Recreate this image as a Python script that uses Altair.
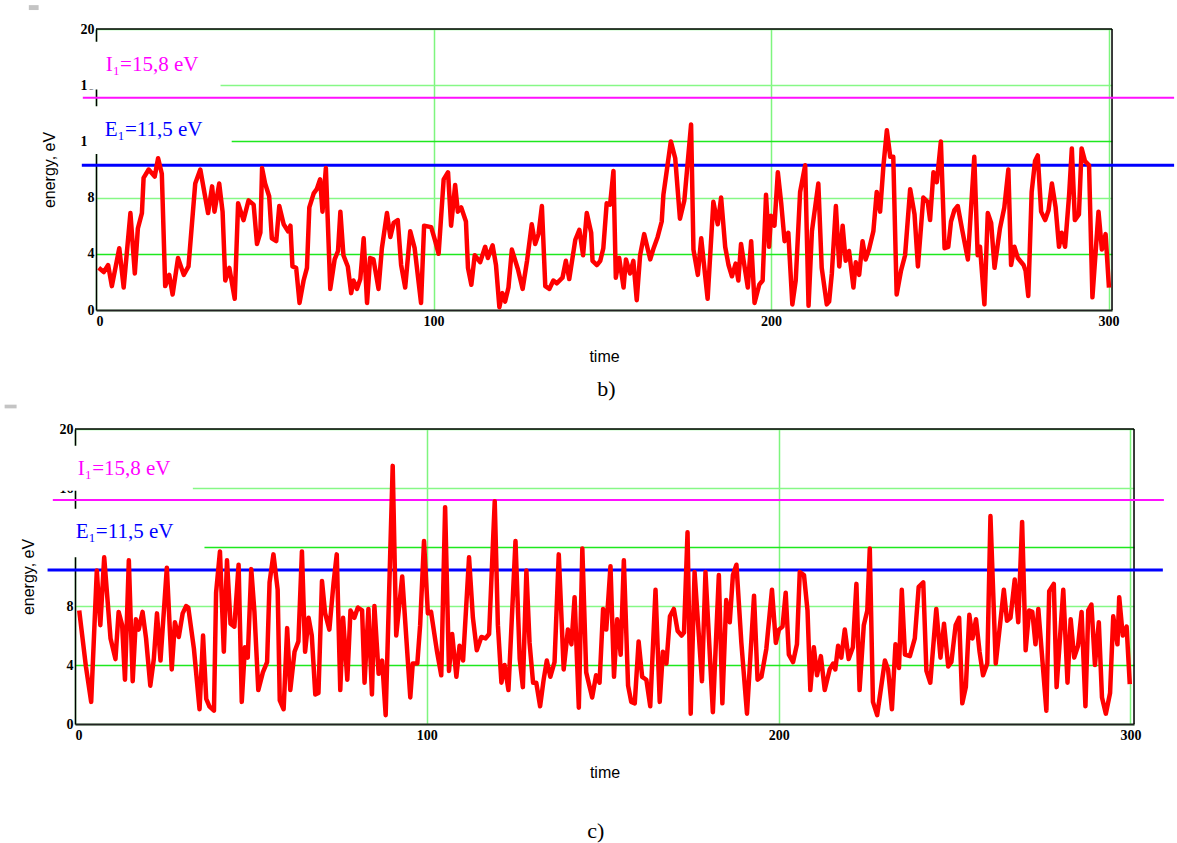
import altair as alt
import pandas as pd

# ---------------- data: panel b) ----------------
time_b = [0.8, 2.3, 3.6, 4.7, 6.9, 8.2, 10.2, 11.5, 12.4, 13.6, 14.1, 15.6, 17.4, 18.4, 19.5,
          20.5, 21.7, 22.7, 24.3, 26.0, 27.4, 29.4, 30.9, 33.2, 34.4, 35.1, 36.5, 37.5, 38.3,
          39.5, 41.1, 42.1, 43.7, 45.2, 46.7, 47.7, 48.7, 49.2, 50.1, 51.3, 52.1, 53.4, 54.3,
          55.6, 56.9, 57.6, 58.2, 59.3, 60.3, 61.5, 62.5, 63.2, 64.5, 65.4, 66.4, 67.1, 68.1,
          69.4, 70.7, 71.7, 72.4, 73.3, 74.6, 75.6, 76.3, 77.3, 78.3, 79.3, 80.3, 81.2, 82.2,
          83.7, 84.7, 86.2, 87.2, 88.2, 89.4,
          90.4, 91.6, 93.1, 94.4, 96.3, 97.2, 99.3, 100.5, 101.5, 103.0, 104.3, 105.2, 106.4,
          107.2, 108.2, 109.6, 110.2, 111.2, 112.2, 113.8, 115.3, 116.1, 117.5, 118.5, 119.5,
          120.4, 121.2, 122.2, 123.2, 125.0, 126.4, 127.7, 129.1, 130.1, 131.1, 132.1, 133.1,
          134.3, 135.5, 136.5, 138.2, 139.2, 140.2, 142.0, 143.2, 144.3, 145.4, 146.7, 147.1,
          148.4, 149.4, 150.3, 151.3, 152.3, 153.3, 154.0, 155.0, 156.3, 157.0, 158.2, 159.2,
          160.2, 161.2, 162.4, 164.2, 165.2, 166.4, 167.6, 168.1, 168.8, 170.3, 171.6, 173.0,
          174.3, 176.3, 177.0, 178.3, 179.3, 181.2, 182.9, 184.2, 185.2, 186.4, 187.4, 188.4,
          189.5, 190.3, 191.1, 193.1, 194.1, 195.1, 196.5, 197.5, 198.5, 199.4, 200.0, 201.0,
          202.0,
          203.0, 204.0, 205.1, 206.3, 207.3, 208.6, 210.1, 211.1, 212.1, 214.0, 215.0, 216.5,
          217.2, 218.0, 219.2, 220.2, 221.2, 222.1, 223.1, 224.4, 225.1, 226.1, 227.1, 228.0,
          229.0, 230.3, 231.3, 232.3, 233.3, 234.3, 235.3, 236.2, 237.2, 238.5, 239.7, 241.2,
          242.5, 243.5, 245.1, 246.4, 247.1, 248.1, 249.1, 250.3, 251.4, 252.5, 253.3, 254.3,
          255.3, 256.7, 258.3, 260.2, 261.2, 261.9, 263.2, 264.2, 265.2, 266.2, 267.8, 269.1,
          270.3, 271.1, 272.1, 273.1, 274.8, 275.4, 276.2, 277.2, 278.2, 279.0, 280.0, 281.2,
          282.2, 283.2, 284.3, 285.3, 286.1, 287.1, 288.3, 289.1, 290.0, 291.2, 292.0, 293.0,
          294.2, 295.2, 297.0, 298.0, 299.1, 300.1]
energy_b = [3.0, 2.7, 3.2, 1.7, 4.4, 1.6, 6.9, 2.6, 5.8, 6.9, 9.4, 10.0, 9.5, 10.8, 9.7,
            1.7, 2.5, 1.1, 3.7, 2.5, 3.1, 9.0, 10.0, 6.9, 8.8, 7.0, 9.0, 7.0, 2.1,
            3.0, 0.8, 7.6, 6.4, 7.8, 7.5, 4.7, 5.5, 10.1, 9.0, 8.1, 5.1, 4.9, 7.4,
            6.1, 5.6, 6.0, 3.1, 3.0, 0.5, 2.1, 3.0, 7.3, 8.3, 8.6, 9.3, 7.0, 10.1,
            1.5, 3.6, 4.2, 7.0, 3.9, 3.1, 1.2, 2.1, 1.5, 2.2, 5.1, 0.5, 3.7, 3.6,
            1.5, 4.4, 6.9, 5.2, 6.2, 6.4,
            3.2, 1.6, 5.6, 4.4, 0.5, 6.0, 5.9, 4.9, 4.0, 9.3, 9.8, 6.0, 8.9,
            7.0, 7.3, 6.3, 3.0, 1.8, 3.9, 3.4, 4.5, 3.7, 4.6, 3.2, 0.2,
            1.2, 0.6, 1.6, 4.3, 2.9, 1.5, 3.5, 6.1, 4.7, 5.4, 7.4, 1.7,
            1.5, 2.1, 1.9, 2.3, 3.5, 2.2, 5.0, 5.7, 3.9, 6.9, 5.5, 3.5,
            3.2, 3.5, 4.4, 7.6, 7.5, 9.9, 2.3, 3.7, 1.6, 3.6, 2.6, 3.5,
            0.7, 3.9, 5.4, 3.6, 4.4, 5.2, 6.3, 8.2, 9.4, 12.0, 10.8, 6.5,
            7.8, 13.2, 4.3, 2.5, 5.1, 0.8, 7.7, 6.1, 8.0, 4.5, 3.2, 2.4,
            3.3, 2.1, 4.7, 1.6, 4.9, 0.5, 1.8, 2.1, 8.2, 4.5, 6.7, 6.0,
            9.8,
            7.6, 4.9, 5.5, 0.4, 2.1, 8.4, 10.3, 0.3, 5.6, 9.0, 3.0, 0.4,
            0.6, 2.6, 7.4, 3.1, 6.0, 3.5, 4.2, 1.6, 3.4, 2.5, 4.9, 3.6,
            4.3, 5.6, 8.4, 7.0, 10.3, 12.8, 10.9, 10.9, 1.1, 2.8, 3.9, 8.6,
            6.8, 3.1, 8.0, 7.7, 6.4, 9.8, 9.1, 12.0, 4.4, 4.5, 6.3, 7.1,
            7.4, 5.6, 3.6, 10.9, 3.9, 4.5, 0.4, 6.9, 6.2, 3.0, 5.8, 7.3,
            10.0, 3.2, 4.5, 3.7, 3.2, 2.8, 1.0, 8.4, 10.6, 11.0, 7.0, 6.4,
            7.1, 9.0, 7.3, 4.5, 5.5, 4.5, 8.2, 11.5, 6.4, 6.8, 11.5, 10.6,
            10.3, 0.9, 7.0, 4.3, 5.4, 1.6]

# ---------------- data: panel c) ----------------
time_c = [1.2, 3.1, 4.6, 6.2, 7.2, 8.3, 10.1, 11.5, 12.4, 13.4, 14.2, 15.3, 16.4, 17.3, 18.1,
          19.2, 20.2, 21.4, 22.4, 23.3, 24.3, 26.1, 27.5, 28.4, 29.5, 30.6, 31.6, 32.2, 33.8,
          35.4, 36.4, 37.3, 38.2, 39.5, 40.1, 41.2, 42.3, 43.2, 44.2, 45.3, 46.5, 47.4, 48.3,
          49.1, 50.1, 51.0, 52.1, 53.4, 54.6, 55.3, 56.4, 57.6, 58.2, 59.3, 60.3, 61.2, 62.4,
          63.5, 64.5, 65.4, 66.4, 67.3, 68.3, 69.2, 70.2, 71.1, 72.3, 73.5, 74.4, 75.4, 76.2,
          77.4, 78.3, 79.4, 80.4, 81.6, 82.3, 83.4, 84.4, 85.1, 86.3, 87.3, 88.3, 90.3, 91.3,
          93.0, 95.3, 96.0, 97.3, 98.1, 99.2, 100.3, 101.2, 102.9, 104.1, 105.2, 106.3, 107.2,
          108.4, 109.3, 110.3, 112.0, 113.1, 114.2, 115.5, 116.7, 117.7, 119.3, 120.2, 121.2,
          122.1, 123.2, 125.2, 126.4, 127.3, 128.3, 129.2, 130.2, 131.1, 132.2, 133.2, 134.1,
          135.1, 136.3, 137.5, 138.9, 140.1, 141.1, 142.0, 143.2, 144.2, 145.3, 147.0, 148.1,
          149.1, 150.1, 151.0, 152.2, 153.2, 154.1, 155.1, 156.0, 157.2, 158.1, 159.1, 160.2,
          161.2, 162.4, 163.5, 165.0, 166.2, 167.1, 168.1, 169.1, 170.2, 171.3, 172.4, 173.1,
          174.1, 175.0, 176.1, 178.2, 179.2, 181.3, 183.0, 184.0, 185.1, 186.1, 187.0, 188.0,
          189.4, 191.0, 193.0, 194.0, 195.1, 196.5, 198.1, 199.2, 200.1, 201.1, 202.0, 202.9,
          204.1, 205.2, 206.0, 207.2, 208.2, 209.0, 210.0, 210.9, 212.0, 213.1, 214.5, 215.5,
          216.1, 216.9, 217.8, 218.8, 219.9, 221.1, 222.1, 223.0, 224.2, 225.2, 225.9, 226.8,
          228.0, 230.2, 231.1, 232.2, 233.2, 234.2, 235.0, 235.9, 237.3, 238.7, 239.8, 241.1,
          242.0, 243.1, 244.8, 246.0, 247.0, 248.2, 249.1, 250.3, 251.3, 252.2, 253.2, 254.2,
          255.1, 256.1, 257.1, 258.1, 259.3, 260.2, 261.7, 263.0, 264.0, 264.9, 265.9, 267.1,
          268.1, 269.2, 270.2, 271.2, 272.1, 273.0, 273.8, 275.0, 276.1, 276.9, 278.2, 279.0,
          280.9, 282.1, 283.0, 284.0, 285.1, 286.1, 287.2, 288.0, 288.9, 289.9, 291.0, 291.9,
          293.0, 294.2, 295.1, 296.3, 296.8, 297.8, 298.9, 299.8]
energy_c = [7.7, 3.9, 1.5, 10.4, 6.7, 11.3, 5.8, 4.4, 7.6, 6.7, 3.0, 11.1, 2.9, 7.1, 6.4,
            7.6, 5.8, 2.6, 4.4, 7.5, 4.3, 10.6, 3.7, 6.9, 5.9, 7.5, 8.0, 7.9, 5.1,
            1.0, 6.0, 1.7, 1.2, 0.9, 8.9, 11.7, 4.9, 11.1, 6.8, 6.6, 10.8, 1.5, 5.2,
            4.5, 10.5, 7.6, 2.3, 3.5, 4.2, 9.6, 11.5, 9.1, 1.6, 1.0, 6.5, 2.3, 4.9,
            5.6, 11.7, 4.9, 7.2, 6.0, 2.0, 2.1, 9.7, 7.5, 6.4, 9.6, 11.5, 2.3, 7.2,
            3.0, 7.7, 7.2, 7.9, 7.7, 2.8, 7.8, 2.0, 8.0, 3.4, 4.3, 0.6, 17.5, 6.0,
            10.0, 1.8, 4.1, 4.1, 6.7, 12.4, 7.5, 7.6, 4.9, 3.3, 14.7, 3.6, 6.1,
            3.2, 5.3, 4.3, 11.3, 7.2, 5.0, 5.9, 5.8, 6.1, 15.1, 6.7, 2.8,
            4.0, 2.3, 12.4, 4.4, 2.5, 10.4, 5.5, 2.8, 2.8, 1.2, 3.0, 4.3,
            3.2, 4.2, 11.5, 3.7, 6.4, 5.4, 8.6, 1.1, 11.9, 3.5, 1.8, 3.3,
            2.8, 7.8, 6.4, 10.7, 3.2, 7.1, 4.7, 11.1, 2.6, 1.5, 1.4, 5.6,
            3.2, 3.0, 1.2, 9.1, 1.5, 4.9, 4.1, 7.3, 7.8, 6.3, 6.0, 6.2,
            13.0, 0.7, 10.3, 2.9, 10.3, 0.8, 10.1, 1.4, 8.4, 6.9, 10.1, 10.8,
            5.5, 0.7, 8.7, 3.0, 3.2, 5.1, 9.1, 5.5, 6.4, 6.6, 8.9, 4.7,
            4.2, 5.4, 10.3, 10.1, 7.7, 2.3, 5.2, 3.3, 4.6, 2.3, 3.7, 4.1,
            3.7, 5.3, 4.5, 6.4, 4.4, 5.2, 9.5, 2.3, 6.7, 7.7, 11.9, 1.5,
            0.6, 4.3, 3.7, 1.0, 5.4, 3.8, 9.1, 4.7, 4.6, 5.8, 9.3, 9.6,
            3.6, 2.8, 7.8, 4.5, 6.8, 3.9, 4.2, 6.7, 7.2, 1.4, 2.5, 7.4,
            5.8, 7.1, 4.9, 3.3, 4.1, 14.1, 4.1, 6.9, 9.1, 7.0, 7.2, 9.8,
            6.9, 13.7, 5.0, 7.7, 7.6, 5.4, 7.8, 4.2, 0.9, 9.0, 9.5, 2.5,
            9.1, 2.8, 7.1, 4.5, 5.3, 7.6, 1.2, 7.7, 8.1, 4.0, 6.9, 1.8,
            0.7, 2.1, 7.3, 5.4, 8.6, 6.0, 6.6, 2.7]

x_ticks = [0, 100, 200, 300]
y_ticks = [0, 4, 8, 12, 16, 20]
label_I = "I₁=15,8 eV"
label_E = "E₁=11,5 eV"
# levels as drawn in each panel
level_I = {"b": 15.1, "c": 15.19}
level_E = {"b": 10.3, "c": 10.44}
caption = {"b": "b)", "c": "c)"}

# ---------------- layout (positions in data units / pixels) ----------------
LAYOUT = {
    "b": dict(width=1016, height=281, xpad=20, lead=28,
              I_span=(-3.9, 319.4), E_span=(-4.2, 319.4),
              I_at=(2.9, 17.45), E_at=(2.6, 12.8),
              box1=(-2.75, 36.9, 15.7, 19.1), box2=(-2.75, 40.2, 11.1, 14.5),
              mark=(-19.9, -17.0, 21.35, 21.7), cap_at=(151.2, -5.6)),
    "c": dict(width=1059, height=295, xpad=22, lead=4,
              I_span=(-6.3, 309.5), E_span=(-7.8, 309.2),
              I_at=(0.8, 17.3), E_at=(0.2, 13.0),
              box1=(-4.9, 33.5, 15.82, 18.87), box2=(-4.9, 36.8, 11.3, 14.6),
              mark=(-20.0, -16.6, 21.4, 21.65), cap_at=(148.0, -7.23)),
}

XS = alt.Scale(domain=[0, 301], nice=False, zero=False)
YS = alt.Scale(domain=[0, 20], nice=False, zero=False)

GRID_Y = {"condition": {"test": "datum.value === 4 || datum.value === 12", "value": "#1ee81e"},
          "value": "#86f886"}


def panel(key, t, e):
    g = LAYOUT[key]
    xaxis = alt.Axis(values=x_ticks, title="time", grid=True, gridColor="#7ef57e", gridWidth=1.5,
                     domain=True, domainColor="#222222", domainWidth=2, ticks=False,
                     labelFont="Liberation Serif", labelFontWeight="bold", labelFontSize=14,
                     labelColor="black", labelPadding=4, titleFont="Liberation Sans",
                     titleFontSize=16, titleFontWeight="normal", titleColor="black",
                     titlePadding=g["xpad"], zindex=0)
    yaxis = alt.Axis(values=y_ticks, title="energy, eV", grid=True, gridColor=GRID_Y, gridWidth=1.5,
                     domain=True, domainColor="black", domainWidth=1.5, ticks=False,
                     labelFont="Liberation Serif", labelFontWeight="bold", labelFontSize=14,
                     labelColor="black", labelPadding=2, titleFont="Liberation Sans",
                     titleFontSize=16, titleFontWeight="normal", titleColor="black",
                     titlePadding=23, zindex=0)

    def X(f):
        return alt.X(f, type="quantitative", scale=XS, axis=xaxis)

    def Y(f):
        return alt.Y(f, type="quantitative", scale=YS, axis=yaxis)

    layers = []
    df = pd.DataFrame({"time": t, "energy": e})
    series = (alt.Chart(df).mark_line(color="#ff0000", strokeWidth=4.5, strokeJoin="round")
              .encode(x=X("time"), y=Y("energy")))
    # small grey marker at top-left
    m = g["mark"]
    layers.append(alt.Chart(pd.DataFrame({"x": [m[0]], "x2": [m[1]], "y": [m[2]], "y2": [m[3]]}))
                  .mark_rect(color="#c4c4c4")
                  .encode(x=X("x"), x2="x2", y=Y("y"), y2="y2"))
    # white label boxes
    b1, b2 = g["box1"], g["box2"]
    boxes = pd.DataFrame({"x": [b1[0], b2[0]], "x2": [b1[1], b2[1]],
                          "y": [b1[2], b2[2]], "y2": [b1[3], b2[3]]})
    layers.append(alt.Chart(boxes).mark_rect(color="white")
                  .encode(x=X("x"), x2="x2", y=Y("y"), y2="y2"))
    # frame top & right
    frame = pd.DataFrame({"x": [0, 301], "x2": [301, 301], "y": [20, 0], "y2": [20, 20]})
    layers.append(alt.Chart(frame).mark_rule(color="black", strokeWidth=1.5)
                  .encode(x=X("x"), x2="x2", y=Y("y"), y2="y2"))
    # level lines
    li = pd.DataFrame({"x": [g["I_span"][0]], "x2": [g["I_span"][1]], "y": [level_I[key]]})
    le = pd.DataFrame({"x": [g["E_span"][0]], "x2": [g["E_span"][1]], "y": [level_E[key]]})
    layers.append(alt.Chart(li).mark_rule(color="#ff10ff", strokeWidth=2)
                  .encode(x=X("x"), x2="x2", y=Y("y")))
    layers.append(alt.Chart(le).mark_rule(color="#0000ff", strokeWidth=3)
                  .encode(x=X("x"), x2="x2", y=Y("y")))
    layers.append(series)
    # labels
    lab_i = pd.DataFrame({"x": [g["I_at"][0]], "y": [g["I_at"][1]], "txt": [label_I]})
    lab_e = pd.DataFrame({"x": [g["E_at"][0]], "y": [g["E_at"][1]], "txt": [label_E]})
    layers.append(alt.Chart(lab_i).mark_text(align="left", baseline="middle", font="Liberation Serif",
                                             fontSize=21, color="#ff00ff")
                  .encode(x=X("x"), y=Y("y"), text="txt"))
    layers.append(alt.Chart(lab_e).mark_text(align="left", baseline="middle", font="Liberation Serif",
                                             fontSize=21, color="#0000ff")
                  .encode(x=X("x"), y=Y("y"), text="txt"))
    cap = pd.DataFrame({"x": [g["cap_at"][0]], "y": [g["cap_at"][1]], "txt": [caption[key]]})
    layers.append(alt.Chart(cap).mark_text(align="center", baseline="middle", font="Liberation Serif",
                                           fontSize=22, color="black")
                  .encode(x=X("x"), y=Y("y"), text="txt"))
    body = alt.layer(*layers).properties(width=g["width"], height=g["height"])
    # invisible leading block that sets the panel's horizontal position
    lead = (alt.Chart(pd.DataFrame({"v": [0]})).mark_rect(opacity=0)
            .encode(x=alt.value(0), x2=alt.value(1), y=alt.value(0), y2=alt.value(1))
            .properties(width=g["lead"], height=1,
                        view=alt.ViewBackground(stroke="transparent", fill="transparent",
                                                strokeWidth=0)))
    return alt.hconcat(lead, body, spacing=0)


chart = alt.vconcat(panel("b", time_b, energy_b), panel("c", time_c, energy_c),
                    spacing=3).properties(
    padding={"left": 0, "top": 4, "right": 0, "bottom": 0}
).configure_view(stroke=None).configure(background="white")

chart.save("out.html", embed_options={"renderer": "svg", "actions": False})
